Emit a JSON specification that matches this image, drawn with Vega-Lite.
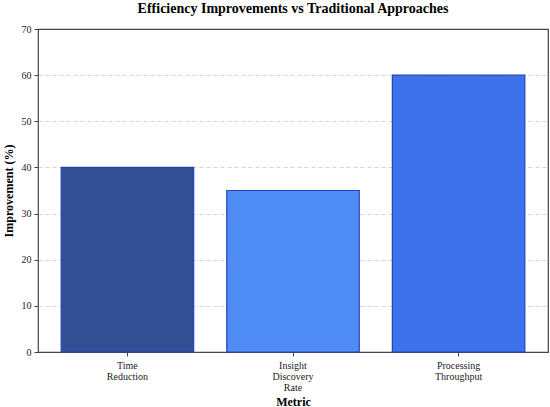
{
  "$schema": "https://vega.github.io/schema/vega-lite/v6.json",
  "width": 510,
  "height": 323,
  "autosize": {"type": "none"},
  "padding": {"left": 38, "top": 29, "right": 2, "bottom": 55},
  "background": "white",
  "config": {
    "view": {"stroke": "#444444", "strokeWidth": 1.2},
    "font": "Liberation Serif",
    "axis": {
      "labelFont": "Liberation Serif",
      "titleFont": "Liberation Serif",
      "labelFontSize": 10,
      "labelColor": "#222222",
      "titleFontSize": 12,
      "titleFontWeight": "bold",
      "titleColor": "#000000",
      "domainColor": "#444444",
      "tickColor": "#444444",
      "tickSize": 4
    }
  },
  "title": {
    "text": "Efficiency Improvements vs Traditional Approaches",
    "font": "Liberation Serif",
    "fontSize": 14,
    "fontWeight": "bold",
    "color": "#000000",
    "anchor": "middle",
    "offset": 8
  },
  "data": {
    "values": [
      {"metric": "Time Reduction", "improvement": 40, "color": "#344F94"},
      {"metric": "Insight Discovery Rate", "improvement": 35, "color": "#508CF5"},
      {"metric": "Processing Throughput", "improvement": 60, "color": "#3D72EA"}
    ]
  },
  "mark": {"type": "bar", "stroke": "#2342B8", "strokeWidth": 1.2},
  "encoding": {
    "x": {
      "field": "metric",
      "type": "nominal",
      "sort": null,
      "title": "Metric",
      "scale": {"paddingInner": 0.2, "paddingOuter": 0.14},
      "axis": {
        "labelAngle": 0,
        "labelExpr": "split(datum.label, ' ')",
        "labelLineHeight": 11,
        "labelPadding": 4,
        "titlePadding": 4,
        "domain": false
      }
    },
    "y": {
      "field": "improvement",
      "type": "quantitative",
      "title": "Improvement (%)",
      "scale": {"domain": [0, 70], "nice": false},
      "axis": {
        "values": [0, 10, 20, 30, 40, 50, 60, 70],
        "grid": true,
        "gridColor": "#cccccc",
        "gridDash": [4, 3],
        "gridWidth": 0.8,
        "gridOpacity": {"condition": {"test": "datum.value == 0 || datum.value == 70", "value": 0}, "value": 1},
        "labelPadding": 3,
        "titlePadding": 6,
        "domain": false
      }
    },
    "color": {"field": "color", "type": "nominal", "scale": null, "legend": null}
  }
}
